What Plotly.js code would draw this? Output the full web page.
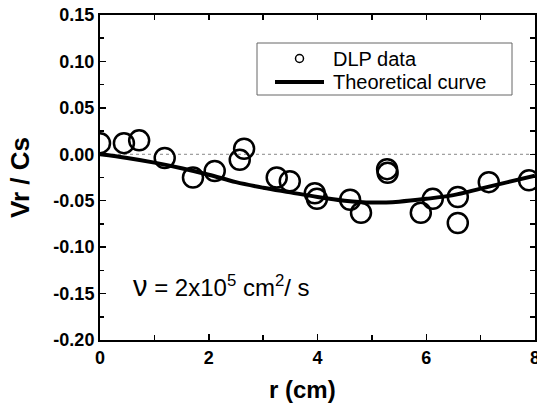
<!DOCTYPE html>
<html>
<head>
<meta charset="utf-8">
<script src="https://cdn.plot.ly/plotly-3.0.1.min.js"></script>
<style>html,body{margin:0;padding:0;background:#fff;}#chart{width:537px;height:403px;}</style>
</head>
<body>
<div id="chart"></div>
<script>
// DLP data points
const dlpR = [0.00, 0.44, 0.72, 1.19, 1.71, 2.11, 2.57, 2.65, 3.25, 3.49, 3.95, 3.99, 4.60, 4.80, 5.28, 5.29, 5.90, 6.12, 6.58, 6.58, 7.15, 7.89];
const dlpV = [0.012, 0.012, 0.015, -0.004, -0.025, -0.018, -0.006, 0.006, -0.025, -0.029, -0.042, -0.048, -0.049, -0.063, -0.016, -0.020, -0.063, -0.048, -0.046, -0.074, -0.030, -0.028];
// Theoretical curve
const theoR = [0, 0.5, 1, 1.5, 2, 2.5, 3, 3.5, 4, 4.5, 5, 5.5, 6, 6.5, 7, 7.5, 8];
const theoV = [0, -0.004, -0.009, -0.015, -0.022, -0.030, -0.036, -0.041, -0.046, -0.050, -0.052, -0.051, -0.048, -0.044, -0.037, -0.030, -0.023];
const yTicks = [0.15, 0.10, 0.05, 0.00, -0.05, -0.10, -0.15, -0.20];
const yTickText = ['0.15', '0.10', '0.05', '0.00', '-0.05', '-0.10', '-0.15', '-0.20'];
const xTicks = [0, 2, 4, 6, 8];
const legendNames = ['DLP data', 'Theoretical curve'];

const FAM = 'Liberation Sans, Arial, sans-serif';
const tickFont = {family: FAM, size: 18, color: '#000', weight: 'bold'};

// plot area in pixels: left 100, right 535, top 15, bottom 340
const L = 100, W = 435, B = 340, H = 325;
const px = v => (v - L) / W;
const py = v => (B - v) / H;

const traces = [
  {x: dlpR, y: dlpV, mode: 'markers', type: 'scatter', showlegend: false,
   marker: {symbol: 'circle-open', size: 20, color: '#000', line: {width: 2.5, color: '#000'}}},
  {x: theoR, y: theoV, mode: 'lines', type: 'scatter', showlegend: false,
   line: {color: '#000', width: 4, shape: 'spline'}},
  // empty trace so the top/right tick axes are drawn
  {x: [null], y: [null], xaxis: 'x2', yaxis: 'y2', mode: 'markers', type: 'scatter', showlegend: false, hoverinfo: 'skip'}
];

const tickCommon = {ticks: 'inside', ticklen: 6, tickwidth: 1.5, tickcolor: '#000',
  showline: true, linecolor: '#000', linewidth: 2, showgrid: false, zeroline: false};

const layout = {
  width: 537, height: 403,
  margin: {l: 100, r: 2, t: 15, b: 63},
  paper_bgcolor: '#fff', plot_bgcolor: '#fff',
  showlegend: false,
  xaxis: Object.assign({range: [0, 8], tickvals: xTicks,
    minor: {dtick: 1, ticks: 'inside', ticklen: 5, tickwidth: 1.5, tickcolor: '#000'},
    mirror: true, tickfont: tickFont, ticklabeloverflow: 'allow'}, tickCommon),
  yaxis: Object.assign({range: [-0.20, 0.15], tickvals: yTicks, ticktext: yTickText,
    minor: {dtick: 0.025, ticks: 'inside', ticklen: 4, tickwidth: 1.5, tickcolor: '#000'},
    mirror: true, tickfont: tickFont, ticklabeloverflow: 'allow'}, tickCommon),
  xaxis2: Object.assign({range: [0, 8], dtick: 1, tick0: 0, overlaying: 'x', side: 'top', anchor: 'y2',
    showticklabels: false}, tickCommon, {ticklen: 5}),
  yaxis2: Object.assign({range: [-0.20, 0.15], dtick: 0.025, tick0: 0, overlaying: 'y', side: 'right', anchor: 'x2',
    showticklabels: false}, tickCommon, {ticklen: 5}),
  shapes: [
    {type: 'line', xref: 'x', yref: 'y', x0: 0, x1: 8, y0: 0, y1: 0,
     line: {color: '#888', width: 1, dash: 'dot'}, layer: 'below'},
    // legend box
    {type: 'rect', xref: 'paper', yref: 'paper', x0: px(257), x1: px(512), y0: py(95), y1: py(43),
     line: {color: '#666', width: 1}, fillcolor: 'rgba(255,255,255,0)'},
    {type: 'circle', xref: 'paper', yref: 'paper', x0: px(295.5), x1: px(303.5), y0: py(62.5), y1: py(54.5),
     line: {color: '#000', width: 1.5}},
    {type: 'line', xref: 'paper', yref: 'paper', x0: px(275), x1: px(324), y0: py(82), y1: py(82),
     line: {color: '#000', width: 4}}
  ],
  annotations: [
    {xref: 'paper', yref: 'paper', x: px(331), y: py(59), xanchor: 'left', yanchor: 'middle', showarrow: false,
     text: legendNames[0], font: {family: FAM, size: 20, color: '#000'}},
    {xref: 'paper', yref: 'paper', x: px(331), y: py(82), xanchor: 'left', yanchor: 'middle', showarrow: false,
     text: legendNames[1], font: {family: FAM, size: 20, color: '#000'}},
    {xref: 'paper', yref: 'paper', x: px(131), y: py(286), xanchor: 'left', yanchor: 'middle', showarrow: false,
     text: '<span style="font-size:29px">ν</span> = 2x10<sup>5</sup> cm<sup>2</sup>/ s',
     font: {family: FAM, size: 24, color: '#000'}},
    {xref: 'paper', yref: 'paper', x: px(302), y: py(389), xanchor: 'center', yanchor: 'middle', showarrow: false,
     text: 'r (cm)', font: {family: FAM, size: 24, color: '#000', weight: 'bold'}},
    {xref: 'paper', yref: 'paper', x: px(20), y: py(178), xanchor: 'center', yanchor: 'middle', showarrow: false,
     textangle: -90, text: 'Vr / Cs', font: {family: FAM, size: 26, color: '#000', weight: 'bold'}}
  ]
};

Plotly.newPlot('chart', traces, layout, {displayModeBar: false, staticPlot: true});
</script>
</body>
</html>
